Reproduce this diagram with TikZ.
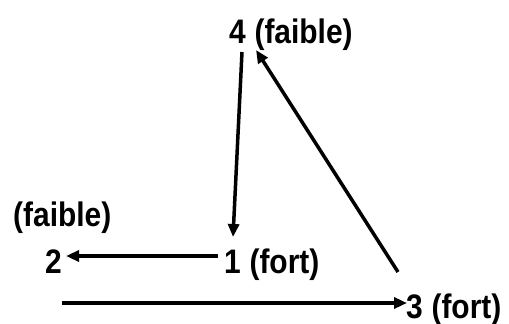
\documentclass[tikz,border=0pt]{standalone}
\usepackage{fontspec}
\setmainfont{Liberation Sans}[FakeStretch=0.88]
\usepackage{tikz}
\usetikzlibrary{arrows.meta, positioning, calc}

\begin{document}
\begin{tikzpicture}[x=1pt, y=-1pt, >={Triangle[length=13pt, width=11pt]},
    lbl/.style={inner sep=0pt, anchor=base west, font=\fontsize{34}{36}\selectfont\bfseries},
    arr/.style={->, line width=3.5pt}]
  \useasboundingbox (0,0) rectangle (509,324);
  % digits
  \node[lbl] (n4) at (229,43) {4};
  \node[lbl] (n2) at (45,273) {2};
  \node[lbl] (n1) at (224,273) {1};
  \node[lbl] (n3) at (406,318) {3};
  % qualifiers
  \node[lbl] (q4) at (n4.base east) {~(faible)};
  \node[lbl] (q2) at (13,226) {(faible)};
  \node[lbl] (q1) at (n1.base east) {~(fort)};
  \node[lbl] (q3) at (n3.base east) {~(fort)};
  \coordinate (start) at ($(n2.base west)+(17,30)$);
  % arrows
  \draw[arr] ($(n4.base west)+(13,9)$) -- ($(n1.base west)+(9,-36)$);
  \draw[arr] ($(n3.base west)+(-8,-46)$) -- ($(q4.base west)+(10,7)$);
  \draw[arr] ($(n1.base west)+(-6,-17)$) -- ($(n2.base east)+(4,-17)$);
  \draw[arr] (start) -- ($(n3.base west)+(1,-15)$);
\end{tikzpicture}
\end{document}
